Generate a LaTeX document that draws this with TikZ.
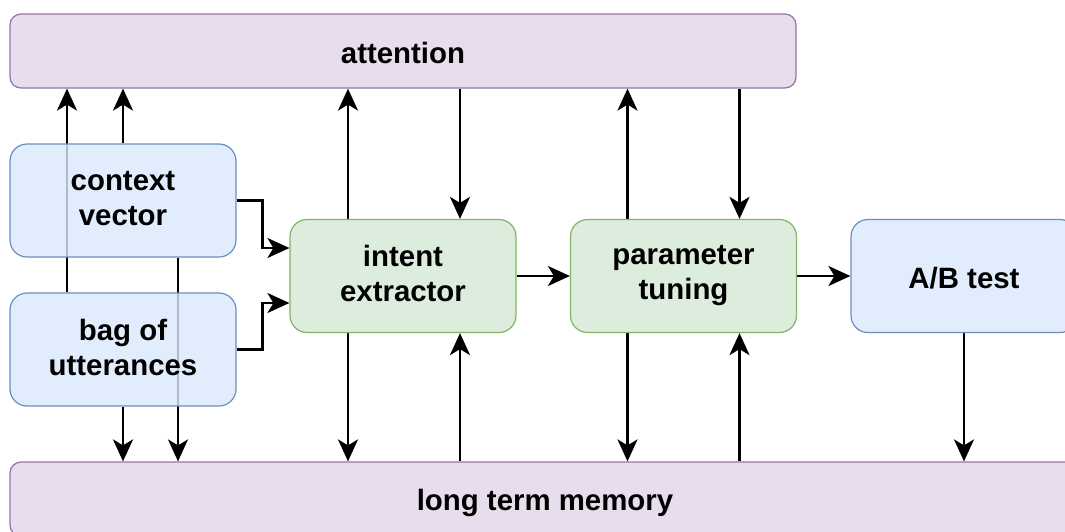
\documentclass[tikz,border=0pt]{standalone}
\usepackage{fontspec}
\setmainfont{Liberation Sans}
\usetikzlibrary{arrows.meta,backgrounds}
\definecolor{blue_fill}{HTML}{DAE8FC}
\definecolor{blue_line}{HTML}{6C8EBF}
\definecolor{green_fill}{HTML}{D5E8D4}
\definecolor{green_line}{HTML}{82B366}
\definecolor{purple_fill}{HTML}{E1D5E7}
\definecolor{purple_line}{HTML}{9673A6}
\newcommand{\topstrut}{\rule{0pt}{30pt}}
\newcommand{\botstrut}{\rule[-5pt]{0pt}{5pt}}
\tikzstyle{box}=[rectangle,rounded corners=17pt,line width=1.2pt,
  fill opacity=0.8,text opacity=1,align=center,
  minimum width=226pt,minimum height=113pt,
  execute at begin node=\topstrut,execute at end node=\botstrut,
  font=\fontsize{29.4}{35}\selectfont\bfseries]
\tikzstyle{bn}=[box,fill=blue_fill,draw=blue_line]
\tikzstyle{gn}=[box,fill=green_fill,draw=green_line]
\tikzstyle{pn}=[box,fill=purple_fill,draw=purple_line,
  rounded corners=11pt,minimum height=74pt]
\tikzstyle{wire}=[line width=2.6pt,
  -{Stealth[length=22pt,width=20pt,inset=6pt]}]

\begin{document}
\begin{tikzpicture}[x=1pt,y=-1pt]
        \useasboundingbox (0,0) rectangle (1065,531);
        \node[style=pn,minimum width=786pt] (att) at (403,51) {attention};
        \node[style=pn,minimum width=1070pt] (ltm) at (545,499) {long term memory};
        \node[style=bn] (ctx) at (123,200.5) {context\\vector};
        \node[style=bn] (bag) at (123,349.5) {bag of\\utterances};
        \node[style=gn] (ie) at (403,276) {intent\\extractor};
        \node[style=gn] (tune) at (683.5,276) {parameter\\tuning};
        \node[style=bn] (ab) at (964,276) {A/B test};
        \begin{scope}[on background layer]
        % inputs
        \draw[wire] ([xshift=-56pt]bag.north) to ([xshift=-56pt]bag.north |- att.south);
        \draw[wire] (ctx.north) to (ctx.north |- att.south);
        \draw[wire] ([xshift=55pt]ctx.south) to ([xshift=55pt]ctx.south |- ltm.north);
        \draw[wire] (bag.south) to (bag.south |- ltm.north);
        \draw[wire] (ctx.east) -- ++(26,0) |- ([yshift=28pt]ie.west);
        \draw[wire] (bag.east) -- ++(26,0) |- ([yshift=-27pt]ie.west);
        % intent extractor
        \draw[wire] ([xshift=-55pt]ie.north) to ([xshift=-55pt]ie.north |- att.south);
        \draw[wire] ([xshift=57pt]ie.north |- att.south) to ([xshift=57pt]ie.north);
        \draw[wire] ([xshift=-55pt]ie.south) to ([xshift=-55pt]ie.south |- ltm.north);
        \draw[wire] ([xshift=57pt]ie.south |- ltm.north) to ([xshift=57pt]ie.south);
        \draw[wire] (ie) to (tune);
        % parameter tuning
        \draw[wire] ([xshift=-56pt]tune.north) to ([xshift=-56pt]tune.north |- att.south);
        \draw[wire] ([xshift=56pt]tune.north |- att.south) to ([xshift=56pt]tune.north);
        \draw[wire] ([xshift=-56pt]tune.south) to ([xshift=-56pt]tune.south |- ltm.north);
        \draw[wire] ([xshift=56pt]tune.south |- ltm.north) to ([xshift=56pt]tune.south);
        \draw[wire] (tune) to (ab);
        % A/B test
        \draw[wire] (ab.south) to (ab.south |- ltm.north);
        \end{scope}
    \end{tikzpicture}
\end{document}
